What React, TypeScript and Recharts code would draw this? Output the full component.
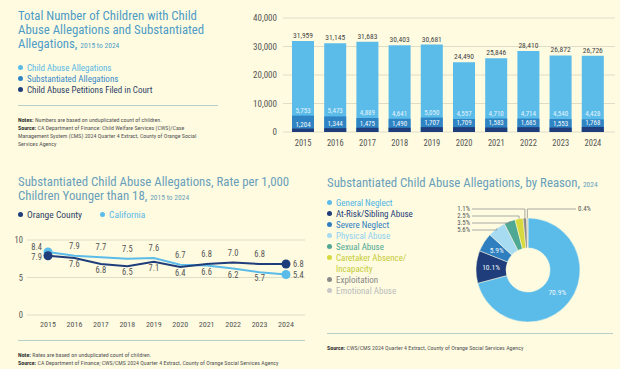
import { BarChart, Bar, XAxis, YAxis, CartesianGrid, LabelList, LineChart, Line, PieChart, Pie, Cell } from "recharts";

const years = ["2015", "2016", "2017", "2018", "2019", "2020", "2021", "2022", "2023", "2024"];
const allegations = [31959, 31145, 31683, 30403, 30681, 24490, 25846, 28410, 26872, 26726];
const substantiated = [5753, 5473, 4889, 4641, 5050, 4557, 4710, 4714, 4540, 4428];
const petitions = [1204, 1344, 1475, 1490, 1707, 1709, 1583, 1685, 1553, 1768];

const orangeCounty = [7.9, 7.6, 6.8, 6.5, 7.1, 6.4, 6.8, 7.0, 6.8, 6.8];
const california = [8.4, 7.9, 7.7, 7.5, 7.6, 6.7, 6.6, 6.2, 5.7, 5.4];

const reasons = [
  "General Neglect",
  "At-Risk/Sibling Abuse",
  "Severe Neglect",
  "Physical Abuse",
  "Sexual Abuse",
  "Caretaker Absence/ Incapacity",
  "Exploitation",
  "Emotional Abuse",
];
const reasonShares = [70.9, 10.1, 5.9, 5.6, 3.5, 2.5, 1.1, 0.4];

const FONT = "'Liberation Sans Narrow', 'Roboto Condensed', 'DejaVu Sans Condensed', sans-serif";
const BG = "#fefbe1";
const LIGHT = "#5bbcea";
const MID = "#2f84c4";
const DARK = "#1f3d7a";
const TITLE = "#4f9bc6";
const TITLE2 = "#6a9fba";
const GRID = "#deddc8";
const RULE = "#b9d0c8";
const TICK = "#555";

const reasonColors = ["#5bbcea", "#1f3d7a", "#2f7fc0", "#a7dbf2", "#4fa894", "#d6da3e", "#8a8a8a", "#c8c8c8"];
const reasonText = ["#4fb3e3", "#1f3d7a", "#2f7fc0", "#8fd0ee", "#4fa894", "#c6cc38", "#888", "#bbb"];

const barData = years.map((y, i) => ({
  year: y,
  allegations: allegations[i],
  substantiated: substantiated[i],
  petitions: petitions[i],
}));

const lineData = years.map((y, i) => ({ year: y, oc: orangeCounty[i], ca: california[i] }));

const pieData = reasons.map((r, i) => ({ name: r, value: reasonShares[i] }));

const fmt = (v: number) => v.toLocaleString("en-US");

function lineLabel(own: number[], other: number[]) {
  return (props: any) => {
    const { x, y, index, value } = props;
    const upper = own[index] >= other[index];
    let tx = x;
    let ty = upper ? y - 10 : y + 6;
    let anchor: "middle" | "start" | "end" = "middle";
    if (index === 0) {
      tx = x - 6;
      ty = upper ? y - 5 : y + 1.5;
      anchor = "end";
    } else if (index === own.length - 1) {
      tx = x + 7;
      ty = y;
      anchor = "start";
    }
    return (
      <text x={tx} y={ty} fontSize={8.5} fill={TICK} textAnchor={anchor} dominantBaseline="central" fontFamily={FONT}>
        {Number(value).toFixed(1)}
      </text>
    );
  };
}

function endDot(color: string, count: number) {
  return (props: any) => {
    const { cx, cy, index } = props;
    if (index !== 0 && index !== count - 1) return <g key={index} />;
    return <circle key={index} cx={cx} cy={cy} r={4.5} fill={color} />;
  };
}

const RAD = Math.PI / 180;
const outside: Record<number, { side: number; row: number }> = {
  3: { side: -1, row: 3 },
  4: { side: -1, row: 2 },
  5: { side: -1, row: 1 },
  6: { side: -1, row: 0 },
  7: { side: 1, row: 0 },
};

function pieLabel(props: any) {
  const { cx, cy, midAngle, innerRadius, outerRadius, index, value } = props;
  const cos = Math.cos(-midAngle * RAD);
  const sin = Math.sin(-midAngle * RAD);
  if (index < 3) {
    const r = (innerRadius + outerRadius) / 2;
    return (
      <text x={cx + r * cos} y={cy + r * sin} fill="#eef7fc" fontSize={7.5} textAnchor="middle" dominantBaseline="central" fontFamily={FONT}>
        {value}%
      </text>
    );
  }
  const o = outside[index];
  const ex = cx + outerRadius * cos;
  const ey = cy + outerRadius * sin;
  const ly = cy - outerRadius - 9 + o.row * 7;
  const lx = o.side < 0 ? cx - 58 : cx + 50;
  const start = o.side < 0 ? lx + 2 : lx - 2;
  return (
    <g>
      <polyline points={`${start},${ly} ${ex},${ly} ${ex},${ey}`} fill="none" stroke="#888" strokeWidth={0.7} />
      <text x={lx} y={ly} fill={TICK} fontSize={6.8} textAnchor={o.side < 0 ? "end" : "start"} dominantBaseline="central" fontFamily={FONT}>
        {value}%
      </text>
    </g>
  );
}

const abs = (left: number, top: number, extra: any = {}) => ({ position: "absolute" as const, left, top, ...extra });

function Dot({ color }: { color: string }) {
  return (
    <span
      style={{ display: "inline-block", width: 5, height: 5, borderRadius: "50%", background: color, marginRight: 4, verticalAlign: "middle", position: "relative", top: -1 }}
    />
  );
}

export default function App() {
  return (
    <div style={{ position: "absolute", left: 0, top: 0, width: 620, height: 369, background: BG, overflow: "hidden", fontFamily: FONT }}>
      {/* top left text */}
      <div style={abs(18, 9, { fontSize: 12.8, lineHeight: "14px", color: TITLE, whiteSpace: "nowrap" })}>
        Total Number of Children with Child
        <br />
        Abuse Allegations and Substantiated
        <br />
        Allegations, <span style={{ fontSize: 7.5 }}>2015 to 2024</span>
      </div>
      <div style={abs(18, 63, { fontSize: 9, lineHeight: "11px" })}>
        <div style={{ color: "#5bb8e4" }}><Dot color={LIGHT} />Child Abuse Allegations</div>
        <div style={{ color: "#3a8ac8" }}><Dot color={MID} />Substantiated Allegations</div>
        <div style={{ color: "#2d3f66" }}><Dot color={DARK} />Child Abuse Petitions Filed in Court</div>
      </div>
      <div style={abs(18, 105, { width: 200, height: 0, borderTop: `1px solid ${RULE}` })} />
      <div style={abs(18, 116, { fontSize: 5.95, lineHeight: "8px", color: "#555", whiteSpace: "nowrap" })}>
        <b style={{ color: "#333" }}>Notes:</b> Numbers are based on unduplicated count of children.
        <br />
        <b style={{ color: "#333" }}>Source:</b> CA Department of Finance: Child Welfare Services (CWS)/Case
        <br />
        Management System (CMS) 2024 Quarter 4 Extract, County of Orange Social
        <br />
        Services Agency
      </div>

      {/* bar chart */}
      <div style={abs(230, 0)}>
        <BarChart width={390} height={160} data={barData} margin={{ top: 18, right: 5, bottom: 0, left: 0 }} barSize={22}>
          <CartesianGrid vertical={false} stroke={GRID} />
          <XAxis xAxisId="a" dataKey="year" axisLine={false} tickLine={false} padding={{ left: 4, right: 6 }} tick={{ fontSize: 8.5, fill: TICK, fontFamily: FONT }} height={28} />
          <XAxis xAxisId="b" dataKey="year" hide padding={{ left: 4, right: 6 }} />
          <XAxis xAxisId="c" dataKey="year" hide padding={{ left: 4, right: 6 }} />
          <YAxis
            width={53}
            domain={[0, 40000]}
            ticks={[0, 10000, 20000, 30000, 40000]}
            axisLine={false}
            tickLine={false}
            tickSize={4}
            tickFormatter={fmt}
            tick={{ fontSize: 9, fill: TICK, fontFamily: FONT }}
          />
          <Bar xAxisId="a" dataKey="allegations" fill={LIGHT} isAnimationActive={false}>
            <LabelList dataKey="allegations" position="top" offset={3} formatter={fmt} style={{ fontSize: 7.5, fill: "#444", fontFamily: FONT }} />
          </Bar>
          <Bar xAxisId="b" dataKey="substantiated" fill={MID} isAnimationActive={false}>
            <LabelList dataKey="substantiated" position="top" offset={3} formatter={fmt} style={{ fontSize: 7, fill: "#e4f3fb", fontFamily: FONT }} />
          </Bar>
          <Bar xAxisId="c" dataKey="petitions" fill={DARK} isAnimationActive={false}>
            <LabelList dataKey="petitions" position="top" offset={2} formatter={fmt} style={{ fontSize: 7, fill: "#f2f8fc", fontFamily: FONT }} />
          </Bar>
        </BarChart>
      </div>

      {/* bottom left */}
      <div style={abs(18, 175, { fontSize: 12.8, lineHeight: "14px", color: TITLE2, whiteSpace: "nowrap" })}>
        Substantiated Child Abuse Allegations, Rate per 1,000
        <br />
        Children Younger than 18, <span style={{ fontSize: 7.5 }}>2015 to 2024</span>
      </div>
      <div style={abs(18, 209, { fontSize: 9.5, lineHeight: "12px", display: "flex", gap: 18 })}>
        <span style={{ color: "#2d3f66" }}><Dot color={DARK} />Orange County</span>
        <span style={{ color: "#5bb8e4" }}><Dot color={LIGHT} />California</span>
      </div>
      <div style={abs(0, 225)}>
        <LineChart width={320} height={110} data={lineData} margin={{ top: 15, right: 15, bottom: 0, left: 0 }}>
          <CartesianGrid vertical={false} stroke={GRID} />
          <XAxis dataKey="year" axisLine={false} tickLine={false} tickSize={4} padding={{ left: 21, right: 19 }} height={20} tick={{ fontSize: 8, fill: TICK, fontFamily: FONT }} />
          <YAxis width={27} domain={[0, 10]} ticks={[0, 5, 10]} axisLine={false} tickLine={false} tickSize={2} tick={{ fontSize: 8.5, fill: TICK, fontFamily: FONT }} />
          <Line dataKey="ca" stroke={LIGHT} strokeWidth={2} dot={endDot(LIGHT, california.length)} isAnimationActive={false}>
            <LabelList dataKey="ca" content={lineLabel(california, orangeCounty)} />
          </Line>
          <Line dataKey="oc" stroke={DARK} strokeWidth={2} dot={endDot(DARK, orangeCounty.length)} isAnimationActive={false}>
            <LabelList dataKey="oc" content={lineLabel(orangeCounty, california)} />
          </Line>
        </LineChart>
      </div>
      <div style={abs(18, 340, { width: 287, height: 0, borderTop: `1px solid ${RULE}` })} />
      <div style={abs(18, 351, { fontSize: 5.95, lineHeight: "8px", color: "#555", whiteSpace: "nowrap" })}>
        <b style={{ color: "#333" }}>Note:</b> Rates are based on unduplicated count of children.
        <br />
        <b style={{ color: "#333" }}>Source:</b> CA Department of Finance; CWS/CMS 2024 Quarter 4 Extract, County of Orange Social Services Agency
      </div>

      {/* bottom right */}
      <div style={abs(327, 176, { fontSize: 12.8, lineHeight: "14px", color: TITLE2, whiteSpace: "nowrap" })}>
        Substantiated Child Abuse Allegations, by Reason, <span style={{ fontSize: 7.5 }}>2024</span>
      </div>
      <div style={abs(327, 198, { width: 100, fontSize: 9, lineHeight: "11px" })}>
        {reasons.map((r, i) => (
          <div key={r} style={{ color: reasonText[i], paddingLeft: 9, textIndent: -9 }}>
            <Dot color={reasonColors[i]} />
            {r}
          </div>
        ))}
      </div>
      <div style={abs(420, 195)}>
        <PieChart width={200} height={140} margin={{ top: 0, right: 0, bottom: 0, left: 0 }}>
          <Pie
            data={pieData}
            dataKey="value"
            nameKey="name"
            cx={108}
            cy={75}
            innerRadius={22}
            outerRadius={52}
            startAngle={90}
            endAngle={-270}
            stroke={BG}
            strokeWidth={0.5}
            label={pieLabel}
            labelLine={false}
            isAnimationActive={false}
          >
            {pieData.map((d, i) => (
              <Cell key={d.name} fill={reasonColors[i]} />
            ))}
          </Pie>
        </PieChart>
      </div>
      <div style={abs(327, 333, { width: 286, height: 0, borderTop: `1px solid ${RULE}` })} />
      <div style={abs(327, 344, { fontSize: 5.95, lineHeight: "8px", color: "#555", whiteSpace: "nowrap" })}>
        <b style={{ color: "#333" }}>Source:</b> CWS/CMS 2024 Quarter 4 Extract, County of Orange Social Services Agency
      </div>
    </div>
  );
}
